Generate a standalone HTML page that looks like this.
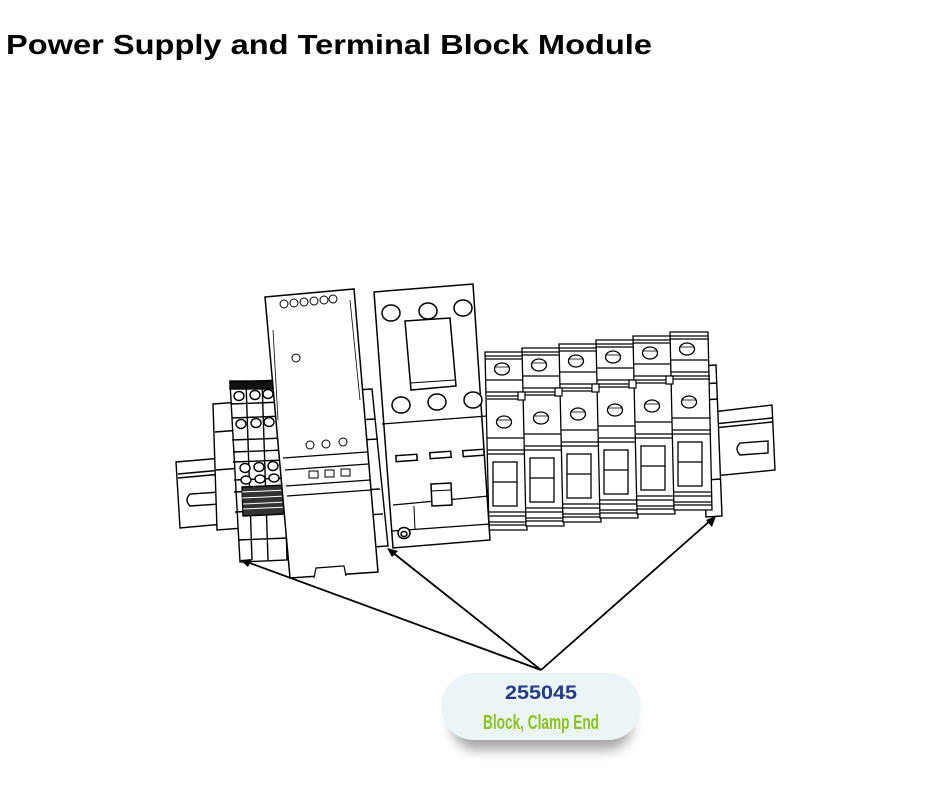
<!DOCTYPE html>
<html><head><meta charset="utf-8"><style>
html,body{margin:0;padding:0;background:#fff;width:940px;height:788px;overflow:hidden}
svg{display:block}
</style></head><body>
<svg width="940" height="788" viewBox="0 0 940 788" xmlns="http://www.w3.org/2000/svg">
<defs>
<filter id="sh" x="-20%" y="-20%" width="140%" height="180%"><feGaussianBlur stdDeviation="6"/></filter>
<g id="brk" fill="none" stroke="#000" stroke-width="1.3">
  <path d="M485 352 L523 352 L527 530 L489 530 Z" fill="#fff"/>
  <path d="M485 356 L523 356 M485 359 L523 359"/>
  <ellipse cx="502" cy="369" rx="7.5" ry="6"/><path d="M495 367 L509 367" stroke-width="0.8"/>
  <path d="M486 380 L524 380 M486 392 L524 392"/>
  <path d="M487 396 L525 396 M487 399 L525 399"/>
  <ellipse cx="504" cy="422" rx="7.5" ry="6"/><path d="M497 420 L511 420" stroke-width="0.8"/>
  <path d="M487 438 L525 438 M488 450 L526 450 M488 454 L526 454"/>
  <rect x="493" y="462" width="24" height="44"/><path d="M493 482 L517 482"/>
  <path d="M489 512 L527 512 M489 516 L527 516 M489 522 L527 522 M489 525 L527 525"/>
</g>
</defs>

<text x="6" y="54" font-family="Liberation Sans, sans-serif" font-weight="bold" font-size="28" textLength="646" lengthAdjust="spacingAndGlyphs" fill="#000">Power Supply and Terminal Block Module</text>

<g fill="#fff" stroke="#000" stroke-width="1.4">
  <!-- DIN rail left -->
  <path d="M176 462 L222 458 L224 524 L180 528 Z"/>
  <path d="M178 474 L222 470 M178 478 L222 474" fill="none"/>
  <path d="M190 506 Q184 500 190 494 L220 492 L220 504 Z"/>
  <!-- DIN rail right -->
  <path d="M712 412 L772 405 L775 470 L714 476 Z"/>
  <path d="M714 424 L772 418 M714 428 L772 422" fill="none"/>
  <path d="M740 455 Q734 449 740 443 L768 441 L768 453 Z"/>
  <!-- end clamp -->
  <path d="M213 404 L240 402 L244 528 L217 530 Z"/>
  <path d="M215 432 L241 430 M216 470 L242 468" fill="none"/>
  <!-- terminal blocks -->
  <path d="M230 382 L282 380 L287 560 L240 562 Z"/>
  <rect x="230" y="381" width="52" height="8" fill="#111"/>
  <path d="M246 382 L252 560 M262 381 L268 560" fill="none"/>
  <path d="M231 404 L283 402 M232 418 L284 416 M232 440 L284 438 M233 452 L285 450 M233 462 L285 460 M234 480 L286 478 M234 492 L286 490 M235 512 L287 510 M238 540 L288 538" fill="none"/>
  <ellipse cx="239" cy="396" rx="5" ry="4.5"/><ellipse cx="255" cy="395" rx="5" ry="4.5"/><ellipse cx="268" cy="394" rx="5" ry="4.5"/>
  <ellipse cx="241" cy="424" rx="5" ry="4.5"/><ellipse cx="256" cy="423" rx="5" ry="4.5"/><ellipse cx="269" cy="422" rx="5" ry="4.5"/>
  <ellipse cx="245" cy="468" rx="5" ry="4.5"/><ellipse cx="259" cy="467" rx="5" ry="4.5"/><ellipse cx="273" cy="466" rx="5" ry="4.5"/>
  <ellipse cx="246" cy="480" rx="5" ry="4"/><ellipse cx="260" cy="479" rx="5" ry="4"/><ellipse cx="274" cy="478" rx="5" ry="4"/>
  <path d="M242 487 L286 485 L287 514 L243 516 Z" fill="#333"/>
  <path d="M242 492 L286 490 M242 498 L286 496 M243 504 L287 502 M243 509 L287 507" stroke="#fff" stroke-width="1"/>
  <!-- spacer between PS and contactor -->
  <path d="M355 390 L372 389 L388 546 L372 547 Z"/>
  <path d="M358 420 L375 419 M360 440 L378 439 M362 490 L380 489 M365 515 L383 514" fill="none"/>
  <!-- breakers back piece -->
  <path d="M700 366 L716 365 L722 516 L706 517 Z"/>
  <path d="M701 384 L717 383 M702 400 L718 399 M705 480 L721 479" fill="none"/>
</g>

<!-- breakers -->
<use href="#brk"/>
<use href="#brk" transform="translate(37,-4)"/>
<use href="#brk" transform="translate(74,-8)"/>
<use href="#brk" transform="translate(111,-12)"/>
<use href="#brk" transform="translate(148,-16)"/>
<use href="#brk" transform="translate(185,-20)"/>
<g fill="#fff" stroke="#000" stroke-width="1.2">
  <rect x="518" y="392" width="7" height="8"/><rect x="555" y="388" width="7" height="8"/><rect x="592" y="384" width="7" height="8"/><rect x="629" y="380" width="7" height="8"/><rect x="666" y="376" width="7" height="8"/>
</g>

<g fill="#fff" stroke="#000" stroke-width="1.5">
  <!-- power supply -->
  <path d="M265 297 L354 289 L378 572 L290 578 Z"/>
  <path d="M283 458 L367 452 M285 470 L368 464 M286 486 L370 480 M287 496 L371 490" fill="none" stroke-width="1.2"/>
  <path d="M350 300 L360 400 M273 330 L278 420" fill="none" stroke-width="0.8"/>
  <g stroke-width="1"><circle cx="284" cy="304" r="4"/><circle cx="294" cy="303" r="4"/><circle cx="304" cy="302" r="4"/><circle cx="314" cy="301" r="4"/><circle cx="324" cy="300" r="4"/><circle cx="333" cy="299" r="4"/>
  <circle cx="296" cy="358" r="4"/>
  <circle cx="310" cy="445" r="4"/><circle cx="326" cy="444" r="4"/><circle cx="343" cy="442" r="4"/>
  <rect x="309" y="471" width="9" height="7"/><rect x="325" y="470" width="9" height="7"/><rect x="341" y="469" width="9" height="7"/></g>
  <path d="M314 578 L316 568 L330 567 L342 566 L344 566 L346 576" stroke-width="1.2"/>
  <!-- contactor -->
  <path d="M374 292 L473 284 L490 540 L393 548 Z"/>
  <ellipse cx="391" cy="313" rx="9" ry="8"/><ellipse cx="428" cy="311" rx="9" ry="8"/><ellipse cx="463" cy="308" rx="9" ry="8"/>
  <path d="M405 321 L450 318 L456 386 L411 390 Z"/><path d="M410 383 L455 380" fill="none" stroke-width="1"/>
  <ellipse cx="401" cy="405" rx="9" ry="8"/><ellipse cx="437" cy="402" rx="9" ry="8"/><ellipse cx="473" cy="400" rx="9" ry="8"/>
  <path d="M382 424 L487 416 M393 505 L489 496 M392 531 L490 524" fill="none" stroke-width="1.2"/>
  <rect x="396" y="455" width="21" height="6" transform="rotate(-4 406 458)"/><rect x="430" y="452" width="21" height="6" transform="rotate(-4 440 455)"/><rect x="463" y="450" width="21" height="6" transform="rotate(-4 473 453)"/>
  <path d="M431 484 L451 483 L452 505 L432 506 Z"/><path d="M431 491 L451 490" fill="none" stroke-width="1"/>
  <path d="M414 506 L415 530" fill="none" stroke-width="1"/>
  <ellipse cx="404" cy="533" rx="6" ry="5.5"/><ellipse cx="404" cy="534" rx="3" ry="2.5"/>
</g>

<!-- arrows -->
<g stroke="#000" stroke-width="1.8" fill="none">
  <path d="M541 670 L247 562"/>
  <path d="M541 670 L392 552"/>
  <path d="M541 670 L711 520"/>
</g>
<g fill="#000">
  <path d="M240 560 L252 559 L248 567 Z"/>
  <path d="M387 548 L398 551 L392 557 Z"/>
  <path d="M716 516 L712 527 L706 520 Z"/>
</g>

<!-- label pill -->
<rect x="452" y="700" width="180" height="50" rx="25" fill="#000" opacity="0.35" filter="url(#sh)"/>
<rect x="441" y="673" width="200" height="67" rx="33" fill="#ebf5f7"/>
<text x="541" y="699" text-anchor="middle" font-family="Liberation Sans, sans-serif" font-weight="bold" font-size="19" fill="#253a84" textLength="72" lengthAdjust="spacingAndGlyphs">255045</text>
<text x="541" y="729" text-anchor="middle" font-family="Liberation Sans Narrow, Liberation Sans, sans-serif" font-weight="bold" font-size="20" fill="#8cc21d" textLength="116" lengthAdjust="spacingAndGlyphs">Block, Clamp End</text>
</svg>
</body></html>
